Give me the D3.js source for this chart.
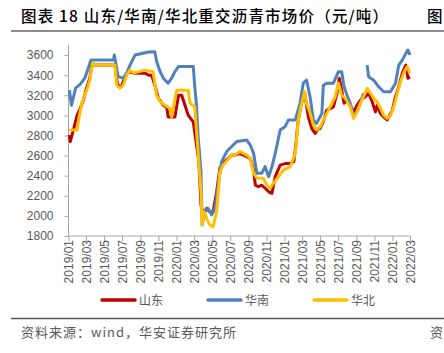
<!DOCTYPE html>
<html>
<head>
<meta charset="utf-8">
<script src="https://cdn.jsdelivr.net/npm/d3@7"></script>
<style>
  body { margin: 0; background: #fff; }
  svg { display: block; }
</style>
</head>
<body>
<div id="chart"></div>
<script>
// series: [date, price] (元/吨)
const shandong = [
  ["2019-01-04",2805],["2019-01-07",2740],["2019-01-19",2870],["2019-01-30",3000],["2019-02-10",3070],
  ["2019-02-20",3150],["2019-03-03",3270],["2019-03-14",3370],["2019-03-20",3485],["2019-03-26",3500],
  ["2019-06-07",3500],["2019-06-16",3300],["2019-06-29",3285],["2019-07-11",3385],["2019-07-22",3435],
  ["2019-08-09",3420],["2019-09-16",3420],["2019-09-29",3400],["2019-10-09",3400],["2019-10-20",3300],
  ["2019-11-01",3170],["2019-11-18",3100],["2019-11-29",3085],["2019-12-04",2985],["2019-12-27",2985],
  ["2020-01-08",3200],["2020-01-19",3200],["2020-01-30",3100],["2020-02-10",3000],["2020-02-27",2935],
  ["2020-03-09",2705],["2020-03-17",2540],["2020-03-24",2110],["2020-04-01",2010],["2020-04-12",2075],
  ["2020-04-23",2040],["2020-05-04",2040],["2020-05-16",2240],["2020-05-27",2475],["2020-06-13",2540],
  ["2020-07-06",2605],["2020-07-17",2605],["2020-08-03",2620],["2020-08-26",2590],["2020-09-07",2570],
  ["2020-09-18",2455],["2020-09-24",2305],["2020-10-04",2290],["2020-10-16",2305],["2020-10-27",2275],
  ["2020-11-08",2240],["2020-11-19",2225],["2020-11-30",2390],["2020-12-17",2505],["2021-01-03",2520],
  ["2021-01-20",2520],["2021-02-01",2540],["2021-02-06",2655],["2021-02-16",2955],["2021-02-27",3120],
  ["2021-03-10",3220],["2021-03-22",2985],["2021-04-03",2870],["2021-04-14",2820],["2021-04-25",2870],
  ["2021-05-01",2870],["2021-05-12",2940],["2021-05-23",3050],["2021-06-15",3085],["2021-06-27",3220],
  ["2021-07-05",3370],["2021-07-13",3250],["2021-07-21",3120],["2021-07-31",3150],["2021-08-11",3100],
  ["2021-08-22",3035],["2021-09-03",3100],["2021-09-14",3150],["2021-10-01",3185],["2021-10-12",3220],
  ["2021-10-24",3135],["2021-11-04",3035],["2021-11-10",3100],["2021-11-21",3020],["2021-12-02",2985],
  ["2021-12-14",2955],["2021-12-31",3050],["2022-01-11",3185],["2022-01-22",3285],["2022-02-03",3420],
  ["2022-02-15",3500],["2022-02-22",3370],["2022-03-01",3385]
];

const huanan = [
  ["2019-01-04",3250],["2019-01-11",3100],["2019-01-25",3270],["2019-02-10",3310],["2019-02-25",3370],
  ["2019-03-09",3470],["2019-03-18",3550],["2019-06-02",3550],["2019-06-05",3600],["2019-06-18",3385],
  ["2019-07-05",3370],["2019-07-17",3420],["2019-07-28",3500],["2019-08-14",3600],["2019-09-29",3630],
  ["2019-10-20",3633],["2019-10-26",3535],["2019-11-07",3435],["2019-11-18",3370],["2019-12-04",3320],
  ["2019-12-16",3370],["2019-12-27",3435],["2020-01-08",3485],["2020-02-27",3485],["2020-03-03",3285],
  ["2020-03-09",3100],["2020-03-14",2805],["2020-03-24",2440],["2020-03-28",1910],["2020-04-06",2040],
  ["2020-04-17",2075],["2020-04-29",2010],["2020-05-10",2075],["2020-05-21",2305],["2020-06-02",2540],
  ["2020-06-19",2640],["2020-07-11",2705],["2020-07-23",2740],["2020-08-26",2755],["2020-09-07",2705],
  ["2020-09-18",2620],["2020-09-29",2425],["2020-10-16",2425],["2020-10-27",2490],["2020-11-08",2390],
  ["2020-11-19",2490],["2020-11-30",2620],["2020-12-17",2855],["2021-01-03",2890],["2021-01-14",2955],
  ["2021-02-06",2955],["2021-02-22",3120],["2021-03-05",3320],["2021-03-16",3350],["2021-03-28",3185],
  ["2021-04-08",2955],["2021-04-19",2920],["2021-05-07",3020],["2021-05-12",3300],["2021-05-23",3320],
  ["2021-06-15",3320],["2021-07-02",3435],["2021-07-13",3435],["2021-07-21",3285],["2021-07-31",3200],
  ["2021-08-11",3120],["2021-08-22",3000],["2021-09-03",3035],["2021-09-14",3120],["2021-09-25",3220],
  ["2021-10-02",null],
  ["2021-10-07",3500],["2021-10-12",3385],["2021-10-29",3350],["2021-11-15",3285],["2021-12-02",3235],
  ["2021-12-25",3235],["2022-01-11",3320],["2022-01-22",3500],["2022-02-03",3550],["2022-02-15",3617],
  ["2022-02-22",3650],["2022-03-01",3600]
];

const huabei = [
  ["2019-01-04",2855],["2019-01-30",2855],["2019-02-05",2970],["2019-02-15",3120],["2019-02-25",3200],
  ["2019-03-06",3270],["2019-03-14",3350],["2019-03-20",3470],["2019-03-26",3520],["2019-04-01",3500],
  ["2019-06-07",3500],["2019-06-13",3300],["2019-06-24",3270],["2019-07-05",3300],["2019-07-17",3400],
  ["2019-07-28",3450],["2019-08-09",3420],["2019-09-16",3450],["2019-10-14",3435],["2019-10-26",3200],
  ["2019-11-07",3135],["2019-11-23",3100],["2019-12-10",3070],["2019-12-16",2985],["2019-12-21",3070],
  ["2020-01-02",3250],["2020-02-10",3250],["2020-02-16",3120],["2020-03-03",3085],["2020-03-14",2640],
  ["2020-03-24",2240],["2020-03-28",1910],["2020-04-04",2040],["2020-04-12",1975],["2020-04-23",1910],
  ["2020-05-04",1890],["2020-05-16",2040],["2020-05-27",2440],["2020-06-07",2505],["2020-07-06",2605],
  ["2020-07-17",2605],["2020-08-03",2640],["2020-08-26",2605],["2020-09-07",2570],["2020-09-18",2425],
  ["2020-09-29",2375],["2020-10-21",2375],["2020-11-02",2305],["2020-11-13",2275],["2020-11-24",2325],
  ["2020-12-11",2390],["2020-12-28",2455],["2021-01-20",2490],["2021-02-06",2620],["2021-02-16",2955],
  ["2021-02-27",3120],["2021-03-10",3235],["2021-03-16",3120],["2021-03-28",3020],["2021-04-08",2905],
  ["2021-04-19",2855],["2021-05-01",2885],["2021-05-18",2990],["2021-06-04",3085],["2021-06-21",3185],
  ["2021-07-02",3320],["2021-07-13",3200],["2021-07-25",3170],["2021-08-11",3085],["2021-08-22",2970],
  ["2021-09-03",3035],["2021-09-14",3120],["2021-09-25",3185],["2021-10-07",3270],["2021-10-18",3220],
  ["2021-10-29",3170],["2021-11-10",3135],["2021-11-21",3070],["2021-12-02",3000],["2021-12-14",2970],
  ["2021-12-25",3000],["2022-01-05",3085],["2022-01-17",3220],["2022-01-28",3335],["2022-02-09",3435],
  ["2022-02-20",3485],["2022-02-28",3420]
];

const seriesNames = ["山东", "华南", "华北"];
const seriesColors = ["#C00000", "#4F81BD", "#FFC000"];
const yTicks = [1800, 2000, 2200, 2400, 2600, 2800, 3000, 3200, 3400, 3600];

const W = 444, H = 353;
const parse = d3.timeParse("%Y-%m-%d");

const svg = d3.select("#chart").append("svg")
    .attr("width", W)
    .attr("height", H);

// title + rules
svg.append("text")
    .attr("x", 21).attr("y", 22)
    .attr("font-family", "'Noto Sans CJK SC'")
    .attr("font-size", 15.5)
    .attr("font-weight", 500)
    .attr("fill", "#000")
    .attr("textLength", 367)
    .attr("lengthAdjust", "spacing")
    .text("图表 18 山东/华南/华北重交沥青市场价（元/吨）");
// start of the neighbouring column's title, at the right edge as in the source page
svg.append("text")
    .attr("x", 427).attr("y", 22)
    .attr("font-family", "'Noto Sans CJK SC'")
    .attr("font-size", 15.5)
    .attr("font-weight", 500)
    .text("图");
svg.append("line")
    .attr("x1", 11).attr("x2", W).attr("y1", 31).attr("y2", 31)
    .attr("stroke", "#8c8c8c").attr("stroke-width", 2);

svg.append("line")
    .attr("x1", 11).attr("x2", W).attr("y1", 318.5).attr("y2", 318.5)
    .attr("stroke", "#595959").attr("stroke-width", 1.5);
svg.append("text")
    .attr("x", 21).attr("y", 337)
    .attr("font-family", "'Noto Sans CJK SC'")
    .attr("font-size", 13)
    .attr("letter-spacing", 1)
    .attr("fill", "#595959")
    .text("资料来源：wind，华安证券研究所");
svg.append("text")
    .attr("x", 430).attr("y", 337)
    .attr("font-family", "'Noto Sans CJK SC'")
    .attr("font-size", 13)
    .attr("fill", "#595959")
    .text("资");

// scales
const x = d3.scaleTime()
    .domain([parse("2019-01-01"), parse("2022-03-01")])
    .range([68.5, 410]);
const y = d3.scaleLinear()
    .domain([1800, 3700])
    .range([236, 45]);

// y axis
const yAxis = svg.append("g")
    .attr("transform", "translate(68.5,0)")
    .call(d3.axisLeft(y).tickValues(yTicks).tickFormat(d3.format("d")).tickSize(4).tickPadding(11));
yAxis.select(".domain").attr("stroke", "#a6a6a6").attr("d", `M0,${y(3700)}V${y(1800)}`);
yAxis.selectAll(".tick line").attr("stroke", "#a6a6a6");
yAxis.selectAll("text")
    .attr("font-family", "'Liberation Sans', Arial, sans-serif")
    .attr("font-size", 12)
    .attr("fill", "#595959");

// x axis
const xAxis = svg.append("g")
    .attr("transform", `translate(0,${y(1800)})`)
    .call(d3.axisBottom(x)
        .ticks(d3.timeMonth.every(2))
        .tickFormat(d3.timeFormat("%Y/%m"))
        .tickSize(5));
xAxis.select(".domain").attr("stroke", "#a6a6a6").attr("d", `M${x.range()[0]},0H${x.range()[1]}`);
xAxis.selectAll(".tick line").attr("stroke", "#a6a6a6");
xAxis.selectAll("text")
    .attr("font-family", "'Liberation Sans', Arial, sans-serif")
    .attr("font-size", 12)
    .attr("fill", "#595959")
    .attr("transform", "rotate(-90)")
    .attr("x", -4)
    .attr("y", 0)
    .attr("dy", "0.35em")
    .attr("text-anchor", "end");

// lines
const line = d3.line()
    .defined(d => d[1] != null)
    .x(d => x(parse(d[0])))
    .y(d => y(d[1]));

[shandong, huanan, huabei].forEach((data, i) => {
    svg.append("path")
        .datum(data)
        .attr("fill", "none")
        .attr("stroke", seriesColors[i])
        .attr("stroke-width", 3)
        .attr("stroke-linejoin", "round")
        .attr("d", line);
});

// legend
const legendX = [102, 208, 314];
seriesNames.forEach((name, i) => {
    svg.append("line")
        .attr("x1", legendX[i]).attr("x2", legendX[i] + 33)
        .attr("y1", 300).attr("y2", 300)
        .attr("stroke", seriesColors[i])
        .attr("stroke-width", 3.5)
        .attr("stroke-linecap", "round");
    svg.append("text")
        .attr("x", legendX[i] + 37).attr("y", 304.5)
        .attr("font-family", "'Noto Sans CJK SC'")
        .attr("font-size", 12)
        .attr("fill", "#595959")
        .text(name);
});
</script>
</body>
</html>
